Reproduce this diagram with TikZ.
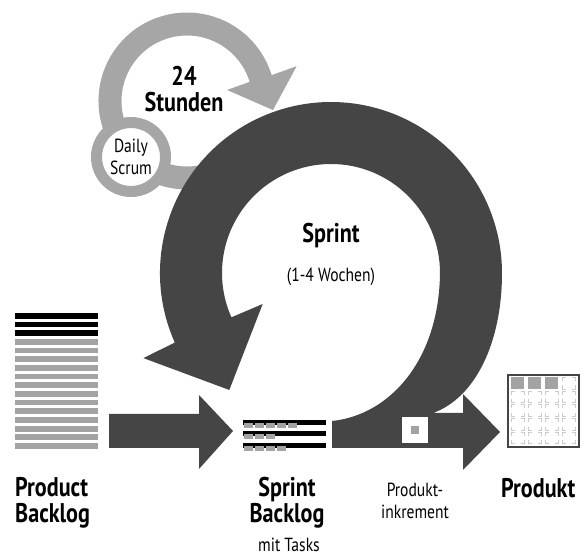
\documentclass[tikz,border=0pt]{standalone}
\usepackage{fontspec}
\setmainfont{PT Sans}[FakeStretch=0.82]
\usepackage{xcolor}
\usepackage{tikz}
\usetikzlibrary{positioning}
\definecolor{sprintgray}{HTML}{454545}
\definecolor{loopgray}{HTML}{A6A6A6}
\definecolor{stripegray}{HTML}{A3A3A3}
\definecolor{markgray}{HTML}{CCCCCC}

\begin{document}
\begin{tikzpicture}[x=1pt,y=1pt,
  every node/.style={inner sep=0pt},
  biglabel/.style={font=\fontsize{27}{26}\selectfont\bfseries},
  smalllabel/.style={font=\fontsize{19}{22}\selectfont},
  cellmark/.style={draw=markgray,line width=0.8pt},
]
\useasboundingbox (0,0) rectangle (582,558);
% 24 Stunden
\begin{scope}[shift={(187,457)}]
\fill[loopgray] (17:65.5) arc[start angle=17,end angle=290,radius=65.5] -- (290:88.5)
  arc[start angle=290,end angle=17,radius=88.5] -- (17.6:115) -- (-6:86.5) -- (15.4:41.5) -- cycle;
\end{scope}
\node[circle,draw=loopgray,line width=11pt,fill=white,minimum size=69pt,smalllabel,align=center] (scrum) at (131,401) {Daily\\Scrum};
\node[biglabel,align=center] (hours) at (184,469) {24\\Stunden};
% Sprint
\begin{scope}[shift={(331,285)}]
\fill[sprintgray] (204:171) arc[start angle=204,end angle=0,radius=171]
  .. controls (171,-70) and (144,-125) .. (102,-140) -- (132,-140) -- (132,-121) -- (169,-159)
  -- (132,-197) -- (132,-175) -- (1,-175) -- (1,-148)
  .. controls (59,-142) and (108,-87) .. (109,0) arc[start angle=0,end angle=204,radius=109]
  -- (204.4:75) -- (229:155) -- (204.4:206) -- cycle;
\end{scope}
\node[biglabel,anchor=base] (sprint) at (331,315) {Sprint};
\node[smalllabel,anchor=base] (dauer) at (331,276) {(1-4 Wochen)};
% Product Backlog
\foreach \i in {0,1,2} \fill (15,245-8.67*\i) rectangle +(83,-5.8);
\foreach \i in {3,...,15} \fill[stripegray] (15,245-8.67*\i) rectangle +(83,-5.8);
\fill[sprintgray] (109,144) -- (199,144) -- (199,163) -- (233,127) -- (199,89) -- (199,110) -- (109,110) -- cycle;
% Sprint Backlog
\foreach \t/\n in {138/5,127/3,115/4}{
  \fill (243,\t) rectangle (326,\t-5);
  \foreach \k in {1,...,\n} \fill[stripegray] (233+11*\k,\t-3) rectangle +(9,-5);
}
\node[fill=white,minimum size=26pt] (inkr) at (415,128) {};
\node[fill=stripegray,minimum size=8pt] (inkrkern) at (inkr) {};
% Produkt
\draw[sprintgray,line width=2pt] (508,183) rectangle (579,111);
\foreach \r in {0,...,4}
  \foreach \c in {0,...,3}{
    \pgfmathtruncatemacro\filled{(\r==0)*(\c<3)}
    \begin{scope}[shift={(511+17*\c,180.5-13.7*\r)}]
    \ifnum\filled=1
      \fill[stripegray] (0,0) rectangle (13,-11.5);
    \else
      \draw[cellmark] (0,-3.5)--(0,0)--(3.5,0) (9.5,0)--(13,0)--(13,-3.5)
        (13,-8)--(13,-11.5)--(9.5,-11.5) (3.5,-11.5)--(0,-11.5)--(0,-8);
    \fi
    \end{scope}
  }
% labels
\node[biglabel,align=left,anchor=base west] (pbl) at (15,36) {Product\\Backlog};
\node[biglabel,align=center,anchor=base] (sbl) at (287,36) {Sprint\\Backlog};
\node[smalllabel,anchor=base] (tasks) at (289,7) {mit Tasks};
\node[smalllabel,align=center,anchor=base] (inkrlabel) at (415,40) {Produkt-\\inkrement};
\node[biglabel,anchor=base west] (prod) at (501,61) {Produkt};
\end{tikzpicture}
\end{document}
